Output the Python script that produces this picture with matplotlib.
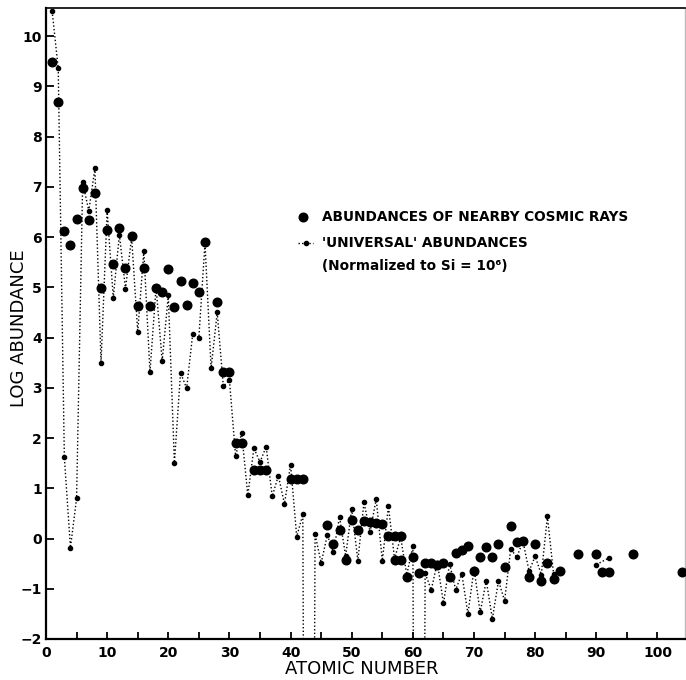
import numpy as np
import matplotlib
matplotlib.use("Agg")
import matplotlib.pyplot as plt

# off-scale marker for elements with no stable isotope (Tc, Pm): line drops below the axis
OFF = -30.0

# cosmic ray abundances (large dots)
cr_z = [1, 2, 3, 4, 5, 6, 7, 8, 9, 10, 11, 12, 13, 14, 15, 16, 17, 18, 19, 20,
        21, 22, 23, 24, 25, 26, 28, 29, 30, 31, 32, 34, 35, 36, 40, 41, 42,
        46, 47, 48, 49, 50, 51, 52, 53, 54, 55, 56, 57, 58, 57, 58, 59, 60, 61,
        62, 63, 64, 65, 66, 67, 68, 69, 70, 71, 72, 73, 74, 75, 76, 77, 78, 79,
        80, 81, 82, 83, 84, 87, 90, 91, 92, 96, 104]
cr_log = [9.48, 8.68, 6.13, 5.85, 6.37, 6.98, 6.35, 6.87, 4.98, 6.15, 5.47, 6.18,
          5.38, 6.03, 4.62, 5.38, 4.62, 4.98, 4.90, 5.36,
          4.60, 5.12, 4.64, 5.09, 4.91, 5.90, 4.70, 3.31, 3.31, 1.90, 1.90,
          1.37, 1.37, 1.37, 1.19, 1.19, 1.19,
          0.26, -0.10, 0.16, -0.43, 0.37, 0.17, 0.35, 0.33, 0.30, 0.28,
          0.05, 0.05, 0.05, -0.42, -0.42, -0.77, -0.37, -0.69,
          -0.49, -0.49, -0.52, -0.49, -0.77, -0.29, -0.23, -0.14, -0.64, -0.36,
          -0.16, -0.36, -0.11, -0.56, 0.24, -0.07, -0.05, -0.77,
          -0.11, -0.84, -0.49, -0.80, -0.64, -0.31, -0.31, -0.67, -0.67, -0.31, -0.67]

# 'universal' abundances (small dots joined by dotted line), normalized to Si = 1e6
uni_z = list(range(1, 84))
uni_log = [10.50, 9.36, 1.62, -0.18, 0.80, 7.09, 6.52, 7.37, 3.50, 6.53,
           4.79, 6.05, 4.97, 6.00, 4.11, 5.72, 3.31, 5.00, 3.53, 4.84,
           1.51, 3.30, 2.99, 4.08, 4.00, 5.88, 3.39, 4.50, 3.03, 3.15,
           1.65, 2.10, 0.86, 1.80, 1.52, 1.83, 0.84, 1.25, 0.69, 1.47,
           0.04, 0.48, OFF, 0.09, -0.49, 0.07, -0.27, 0.43, -0.35, 0.59,
           -0.44, 0.72, 0.13, 0.79, -0.44, 0.64, -0.40, 0.02, -0.72, -0.15,
           OFF, -0.69, -1.02, -0.48, -1.29, -0.50, -1.02, -0.70, -1.50, -0.60,
           -1.47, -0.84, -1.60, -0.84, -1.24, -0.21, -0.37, -0.05, -0.65, -0.35,
           -0.72, 0.44, -0.70]
act_z = [90, 92]
act_log = [-0.52, -0.39]

fig = plt.figure(figsize=(6.86, 6.80), dpi=100)
ax = fig.add_axes([46/686, 1-639/680, 639/686, 631/680])

for zz, vv in [(uni_z, uni_log), (act_z, act_log)]:
    ax.plot(zz, vv, ls=(0, (1, 1.6)), lw=1.0, color="black", zorder=2)
    v = np.array(vv)
    z = np.array(zz)
    ok = v > -5
    ax.plot(z[ok], v[ok], "o", ms=3.0, color="black", zorder=3)

ax.plot(cr_z, cr_log, "o", ms=6.2, color="black", zorder=4, ls="none")

ax.set_xlim(0, 104.5)
ax.set_ylim(-2, 10.56)
ax.set_xticks(np.arange(0, 101, 10))
ax.set_xticks(np.arange(5, 101, 10), minor=True)
ax.set_yticks(np.arange(-2, 11, 1))
ax.tick_params(axis="both", which="both", direction="in", width=1.3, color="black")
ax.tick_params(axis="y", length=6, pad=3, labelsize=10)
ax.tick_params(axis="x", which="major", length=5, pad=5, labelsize=10)
ax.tick_params(axis="x", which="minor", length=5)
for lab in ax.get_xticklabels() + ax.get_yticklabels():
    lab.set_fontweight("bold")

ax.spines["left"].set_linewidth(1.6)
ax.spines["bottom"].set_linewidth(1.6)
ax.spines["top"].set_linewidth(1.2)
ax.spines["right"].set_linewidth(1.0)
ax.spines["right"].set_color("#bbbbbb")


def fx(px):
    return (px - 46) / 639


def fy(py):
    return (639 - py) / 631


# axis titles placed where the reference has them
ax.text(fx(362), fy(669), "ATOMIC NUMBER", transform=ax.transAxes,
        fontsize=13, ha="center", va="center")
ax.text(fx(19.5), fy(328), "LOG ABUNDANCE", transform=ax.transAxes,
        fontsize=13, ha="center", va="center", rotation=90)

# legend drawn by hand
ax.plot([fx(303)], [fy(217)], "o", ms=6.2, color="black", transform=ax.transAxes)
ax.text(fx(322), fy(217), "ABUNDANCES OF NEARBY COSMIC RAYS", transform=ax.transAxes,
        fontsize=9.8, fontweight="bold", va="center", ha="left")
ax.plot([fx(298), fx(313)], [fy(243), fy(243)], ls=(0, (1, 1.6)), lw=1.0,
        color="black", transform=ax.transAxes)
ax.plot([fx(305.5)], [fy(243)], "o", ms=3.0, color="black", transform=ax.transAxes)
ax.text(fx(322), fy(243), "'UNIVERSAL' ABUNDANCES", transform=ax.transAxes,
        fontsize=9.8, fontweight="bold", va="center", ha="left")
ax.text(fx(322), fy(266), "(Normalized to Si = 10⁶)", transform=ax.transAxes,
        fontsize=9.8, fontweight="bold", va="center", ha="left")

fig.savefig("out.png", dpi=100)
